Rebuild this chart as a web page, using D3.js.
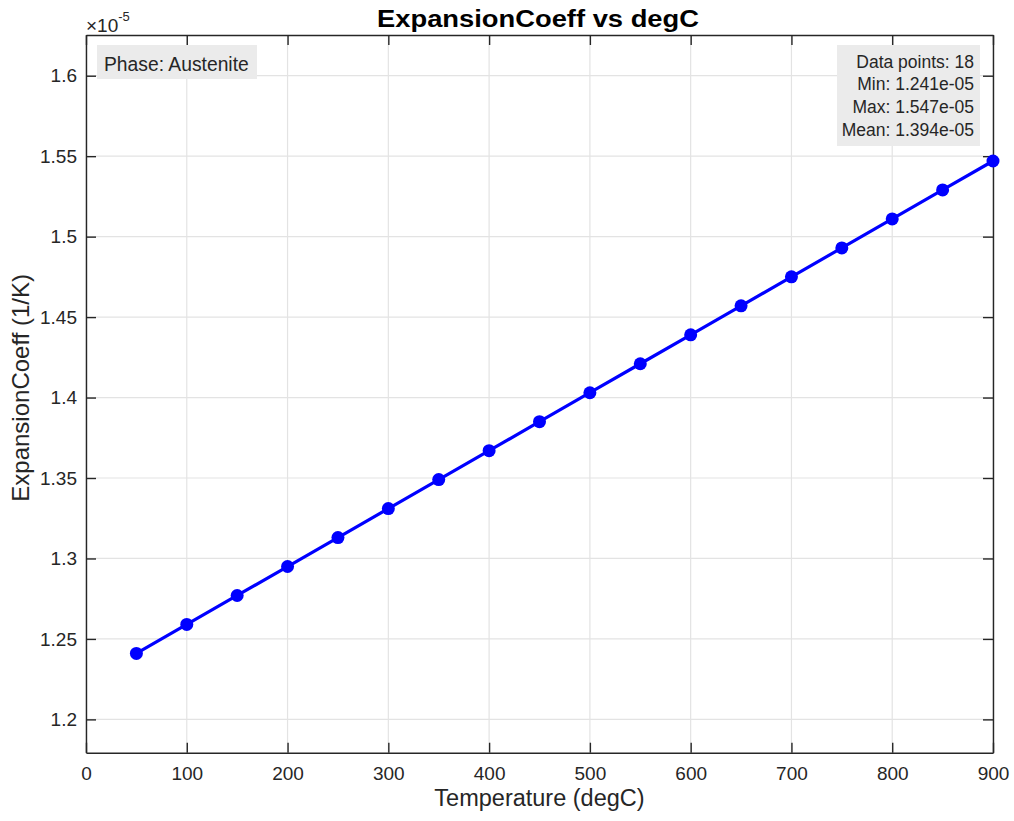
<!DOCTYPE html>
<html><head><meta charset="utf-8">
<script src="https://cdn.jsdelivr.net/npm/d3@7"></script>
<style>body{margin:0;background:#fff;} text{font-family:"Liberation Sans",Arial,Helvetica,sans-serif;}</style>
</head><body>
<svg id="c" width="1014" height="821"></svg>
<script>
const temps = [50,100,150,200,250,300,350,400,450,500,550,600,650,700,750,800,850,900];
const coeffs = [1.241,1.259,1.277,1.295,1.313,1.331,1.349,1.367,1.385,1.403,1.421,1.439,1.457,1.475,1.493,1.511,1.529,1.547];
const xTicks = [0,100,200,300,400,500,600,700,800,900];
const yTicks = [1.2,1.25,1.3,1.35,1.4,1.45,1.5,1.55,1.6];
const statsLines = ["Data points: 18","Min: 1.241e-05","Max: 1.547e-05","Mean: 1.394e-05"];
const phaseLabel = "Phase: Austenite";
const titleText = "ExpansionCoeff vs degC";
const xLabel = "Temperature (degC)";
const yLabel = "ExpansionCoeff (1/K)";

const svg = d3.select("#c");
const L=86,R=993,T=35,B=752.7;
const x = d3.scaleLinear().domain([0,900]).range([L,R]);
const y = d3.scaleLinear().domain([1.1793,1.6253]).range([B,T]);
const axisCol="#262626";

// grid
const g = svg.append("g");
g.selectAll(".gx").data(xTicks).enter().append("line")
 .attr("x1",d=>x(d)).attr("x2",d=>x(d)).attr("y1",T).attr("y2",B)
 .attr("stroke","#e3e3e3").attr("stroke-width",1.2);
g.selectAll(".gy").data(yTicks).enter().append("line")
 .attr("y1",d=>y(d)).attr("y2",d=>y(d)).attr("x1",L).attr("x2",R)
 .attr("stroke","#e3e3e3").attr("stroke-width",1.2);

// axes
const ax = d3.axisBottom(x).tickValues(xTicks).tickSizeInner(-10).tickSizeOuter(0).tickPadding(14);
const axT = d3.axisTop(x).tickValues(xTicks).tickSizeInner(-10).tickSizeOuter(0).tickFormat("");
const ay = d3.axisLeft(y).tickValues(yTicks).tickSizeInner(-10).tickSizeOuter(0).tickPadding(9).tickFormat(d=>String(d));
const ayR = d3.axisRight(y).tickValues(yTicks).tickSizeInner(-10).tickSizeOuter(0).tickFormat("");
function style(sel){
  sel.selectAll("path").attr("stroke",axisCol).attr("stroke-width",1.4);
  sel.selectAll("line").attr("stroke",axisCol).attr("stroke-width",1.4);
  sel.selectAll("text").attr("fill",axisCol).style("font-size","19px").style("font-family","'Liberation Sans',Arial,sans-serif");
}
svg.append("g").attr("transform",`translate(0,${B})`).call(ax).call(style);
svg.append("g").attr("transform",`translate(0,${T})`).call(axT).call(style);
svg.append("g").attr("transform",`translate(${L},0)`).call(ay).call(style);
svg.append("g").attr("transform",`translate(${R},0)`).call(ayR).call(style);

// line + markers
const pts = temps.map((t,i)=>[t,coeffs[i]]);
svg.append("path").datum(pts)
 .attr("d",d3.line().x(d=>x(d[0])).y(d=>y(d[1])))
 .attr("fill","none").attr("stroke","#0000ff").attr("stroke-width",3.2);
svg.selectAll(".m").data(pts).enter().append("circle")
 .attr("cx",d=>x(d[0])).attr("cy",d=>y(d[1])).attr("r",6.5).attr("fill","#0000ff");

// title
svg.append("text").attr("x",538).attr("y",27).attr("text-anchor","middle")
 .attr("textLength",322).attr("lengthAdjust","spacingAndGlyphs")
 .style("font-size","23px").style("font-weight","bold").attr("fill","#000").text(titleText);
// exponent
const ex = svg.append("text").attr("x",86).attr("y",32).attr("fill",axisCol).style("font-size","19px");
ex.append("tspan").text("\u00d710");
ex.append("tspan").attr("dy",-11).style("font-size","13px").text("-5");

// axis labels
svg.append("text").attr("x",(L+R)/2).attr("y",806).attr("text-anchor","middle")
 .attr("fill",axisCol).style("font-size","23.5px").text(xLabel);
svg.append("text").attr("transform",`translate(29,${(T+B)/2 - 6}) rotate(-90)`).attr("text-anchor","middle")
 .attr("fill",axisCol).style("font-size","24px").text(yLabel);

// phase box
svg.append("rect").attr("x",97).attr("y",45).attr("width",160).attr("height",34).attr("fill","#ebebeb");
svg.append("text").attr("x",104).attr("y",71).attr("fill","#262626").style("font-size","19.3px").text(phaseLabel);

// stats box
svg.append("rect").attr("x",837).attr("y",45).attr("width",143).attr("height",101).attr("fill","#ebebeb");
svg.selectAll(".st").data(statsLines).enter().append("text")
 .attr("x",974).attr("y",(d,i)=>67.5+i*22.9).attr("text-anchor","end")
 .attr("fill","#262626").style("font-size","17.5px").text(d=>d);
</script>
</body></html>
